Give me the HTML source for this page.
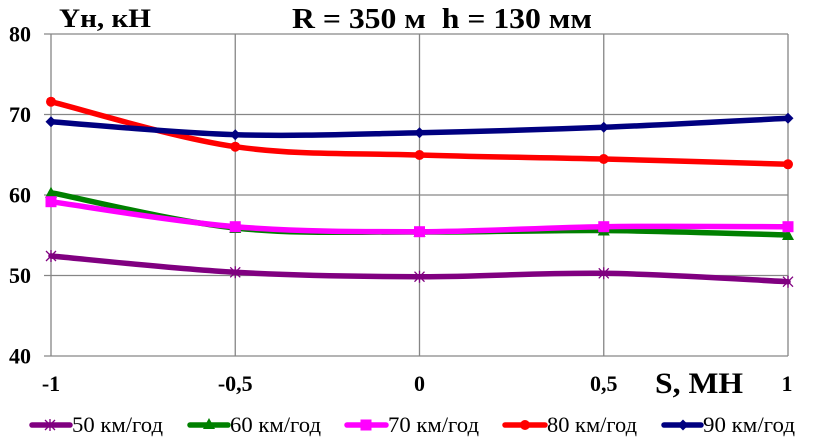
<!DOCTYPE html>
<html><head><meta charset="utf-8"><style>
html,body{margin:0;padding:0;background:#fff;}
svg{display:block;}
text{font-family:"Liberation Serif",serif;}
</style></head><body>
<svg width="813" height="443" viewBox="0 0 813 443" xmlns="http://www.w3.org/2000/svg">
<rect width="813" height="443" fill="#fff"/>
<g stroke="#868686" stroke-width="1.3" fill="none">
<line x1="44" y1="34" x2="788" y2="34"/>
<line x1="44" y1="114.5" x2="788" y2="114.5"/>
<line x1="44" y1="195" x2="788" y2="195"/>
<line x1="44" y1="275.5" x2="788" y2="275.5"/>
<line x1="44" y1="356" x2="788" y2="356"/>
<line x1="51" y1="34" x2="51" y2="356"/>
<line x1="235.25" y1="34" x2="235.25" y2="356"/>
<line x1="419.5" y1="34" x2="419.5" y2="356"/>
<line x1="603.75" y1="34" x2="603.75" y2="356"/>
<line x1="788" y1="34" x2="788" y2="356"/>
</g>
<g font-weight="bold" font-size="22" text-anchor="end" fill="#000">
<text x="31" y="41.5">80</text>
<text x="31" y="122">70</text>
<text x="31" y="202.5">60</text>
<text x="31" y="283">50</text>
<text x="31" y="363.5">40</text>
</g>
<g font-weight="bold" font-size="22" text-anchor="middle" fill="#000">
<text x="51" y="391">-1</text>
<text x="235.25" y="391">-0,5</text>
<text x="419.5" y="391">0</text>
<text x="603.75" y="391">0,5</text>
<text x="787" y="391">1</text>
</g>
<text x="59" y="27" font-weight="bold" font-size="26" textLength="92" lengthAdjust="spacingAndGlyphs">Yн, кН</text>
<text x="292" y="28" font-weight="bold" font-size="28" textLength="300" lengthAdjust="spacingAndGlyphs" style="white-space:pre" xml:space="preserve">R = 350 м  h = 130 мм</text>
<text x="655" y="393" font-weight="bold" font-size="30" textLength="88" lengthAdjust="spacingAndGlyphs">S, МН</text>

<g fill="none" stroke-width="5.5" stroke-linejoin="round" stroke-linecap="round">
<path stroke="#800080" d="M51,256 C81.71,258.72 173.83,268.85 235.25,272.3 C296.67,275.75 358.08,276.53 419.5,276.7 C480.92,276.87 542.33,272.47 603.75,273.3 C665.17,274.13 757.29,280.3 788,281.7"/>
<path stroke="#008000" d="M51,192.7 C81.71,198.58 173.83,221.45 235.25,228 C296.67,234.55 358.08,231.58 419.5,232 C480.92,232.42 542.33,230 603.75,230.5 C665.17,231 757.29,234.25 788,235"/>
<path stroke="#FF00FF" d="M51,201.7 C81.71,205.87 173.83,221.7 235.25,226.7 C296.67,231.7 358.08,231.7 419.5,231.7 C480.92,231.7 542.33,227.53 603.75,226.7 C665.17,225.87 757.29,226.7 788,226.7"/>
<path stroke="#FF0000" d="M51,101.7 C81.71,109.2 173.83,137.82 235.25,146.7 C296.67,155.58 358.08,152.95 419.5,155 C480.92,157.05 542.33,157.45 603.75,159 C665.17,160.55 757.29,163.42 788,164.3"/>
<path stroke="#000080" d="M51,121.7 C81.71,123.87 173.83,132.87 235.25,134.7 C296.67,136.53 358.08,133.93 419.5,132.7 C480.92,131.47 542.33,129.7 603.75,127.3 C665.17,124.9 757.29,119.8 788,118.3"/>
</g>

<defs>
<g id="mStar"><path d="M-5,-5 L5,5 M-5,5 L5,-5 M0,-6 L0,6" stroke="#800080" stroke-width="1.3" fill="none"/></g>
<g id="mTri"><path d="M0,-6 L6,5 L-6,5 Z" fill="#008000"/></g>
<g id="mSq"><rect x="-5.5" y="-5.5" width="11" height="11" fill="#FF00FF"/></g>
<g id="mCir"><circle r="5" fill="#FF0000"/></g>
<g id="mDia"><path d="M0,-5.5 L5.5,0 L0,5.5 L-5.5,0 Z" fill="#000080"/></g>
</defs>
<use href="#mStar" x="51" y="256"/><use href="#mStar" x="235.25" y="272.3"/><use href="#mStar" x="419.5" y="276.7"/><use href="#mStar" x="603.75" y="273.3"/><use href="#mStar" x="788" y="281.7"/>
<use href="#mTri" x="51" y="192.7"/><use href="#mTri" x="235.25" y="228"/><use href="#mTri" x="419.5" y="232"/><use href="#mTri" x="603.75" y="230.5"/><use href="#mTri" x="788" y="235"/>
<use href="#mSq" x="51" y="201.7"/><use href="#mSq" x="235.25" y="226.7"/><use href="#mSq" x="419.5" y="231.7"/><use href="#mSq" x="603.75" y="226.7"/><use href="#mSq" x="788" y="226.7"/>
<use href="#mCir" x="51" y="101.7"/><use href="#mCir" x="235.25" y="146.7"/><use href="#mCir" x="419.5" y="155"/><use href="#mCir" x="603.75" y="159"/><use href="#mCir" x="788" y="164.3"/>
<use href="#mDia" x="51" y="121.7"/><use href="#mDia" x="235.25" y="134.7"/><use href="#mDia" x="419.5" y="132.7"/><use href="#mDia" x="603.75" y="127.3"/><use href="#mDia" x="788" y="118.3"/>

<g stroke-width="5.5" stroke-linecap="round">
<line x1="32" y1="425" x2="70" y2="425" stroke="#800080"/>
<line x1="190" y1="425" x2="228" y2="425" stroke="#008000"/>
<line x1="347" y1="425" x2="386" y2="425" stroke="#FF00FF"/>
<line x1="505" y1="425" x2="545" y2="425" stroke="#FF0000"/>
<line x1="664" y1="425" x2="701" y2="425" stroke="#000080"/>
</g>
<use href="#mStar" x="50" y="425"/>
<use href="#mTri" x="209" y="424"/>
<use href="#mSq" x="366" y="425"/>
<use href="#mCir" x="525" y="425"/>
<use href="#mDia" x="683" y="425"/>
<g font-size="22" fill="#000">
<text x="72" y="432" textLength="91" lengthAdjust="spacingAndGlyphs">50 км/год</text>
<text x="230" y="432" textLength="91" lengthAdjust="spacingAndGlyphs">60 км/год</text>
<text x="388" y="432" textLength="91" lengthAdjust="spacingAndGlyphs">70 км/год</text>
<text x="547" y="432" textLength="90" lengthAdjust="spacingAndGlyphs">80 км/год</text>
<text x="703" y="432" textLength="92" lengthAdjust="spacingAndGlyphs">90 км/год</text>
</g>
</svg>
</body></html>
